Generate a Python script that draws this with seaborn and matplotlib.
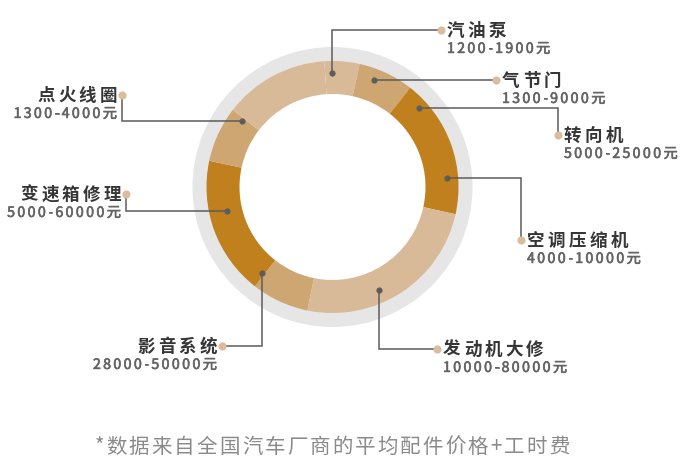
import numpy as np
import pandas as pd
import seaborn as sns
import matplotlib
matplotlib.use("Agg")
import matplotlib.pyplot as plt
import matplotlib.patheffects as pe
from matplotlib.font_manager import FontProperties

# ---------------- data ----------------
segment_sizes = [16.2, 25.5, 64.5, 89.0, 26.5, 64.0, 25.7, 48.6]   # ring segments (degrees), clockwise from the 汽油泵 segment
segment_shades = ["light", "medium", "dark", "light", "medium", "dark", "medium", "light"]
part_names = ["汽油泵", "气节门", "转向机", "空调压缩机", "发动机大修", "影音系统", "变速箱修理", "点火线圈"]
price_ranges = ["1200-1900元", "1300-9000元", "5000-25000元", "4000-10000元",
                "10000-80000元", "28000-50000元", "5000-60000元", "1300-4000元"]
dot_angles = [0.0, 21.2, 47.4, 85.3, 155.7, 219.6, 257.2, 306.4]      # clockwise from top
footnote = "*数据来自全国汽车厂商的平均配件价格+工时费"

# ---------------- layout / style ----------------
W, H = 685, 470
CX, CY = 332.5, 187.0
R_GRAY, R_OUT, R_IN = 140, 126, 93
START_OFFSET = 3.7   # first segment starts this many degrees left of top
dot_radius = [114, 115, 117, 115, 113, 111, 108, 112]
# (anchor x, anchor y, route) route 'v' = vertical first, 'h' = horizontal first
anchors = [(441, 30, "v"), (496, 80, "h"), (558, 135, "h"), (521, 240, "h"),
           (437, 349, "v"), (222, 346, "v"), (126, 194, "h"), (122, 95, "h")]
shade_colors = {"light": "#D8BA98", "medium": "#CEA672", "dark": "#C0801E"}
LINE_C = "#5c5c5c"
MARK_C = "#D9BD9C"
TITLE_C = "#363636"
VALUE_C = "#646464"
NOTE_C = "#8a8a8a"

sns.set_theme(style="white")
plt.rcParams["font.family"] = ["Noto Sans CJK SC", "DejaVu Sans"]

fig = plt.figure(figsize=(W / 100, H / 100), dpi=100)
fig.patch.set_facecolor("white")
ax = fig.add_axes([0, 0, 1, 1])

# gray halo ring
ax.pie([1], radius=R_GRAY, center=(CX, H - CY), colors=["#E6E6E6"],
       wedgeprops=dict(width=R_GRAY - R_OUT + 3, linewidth=0))
# colored donut
ax.pie(segment_sizes, radius=R_OUT, center=(CX, H - CY),
       startangle=90 + START_OFFSET, counterclock=False,
       colors=[shade_colors[s] for s in segment_shades],
       wedgeprops=dict(width=R_OUT - R_IN, linewidth=0))
ax.set_xlim(0, W)
ax.set_ylim(0, H)
ax.set_aspect("equal")
ax.axis("off")

renderer = fig.canvas.get_renderer()


def ink_width(ch, fp):
    t = ax.text(0, 0, ch, fontproperties=fp)
    w = t.get_window_extent(renderer).width
    t.remove()
    return w


def spaced_text(x, yc, s, size_px, gap, ha, color, weight, thicken=0.0):
    fp = FontProperties(family=["Noto Sans CJK SC", "DejaVu Sans"],
                        size=size_px * 0.72, weight=weight)
    widths = [ink_width(c, fp) for c in s]
    total = sum(widths) + gap * (len(s) - 1)
    if ha == "left":
        x0 = x
    elif ha == "right":
        x0 = x - total
    else:
        x0 = x - total / 2
    base = H - (yc + 0.38 * size_px)
    effects = [pe.withStroke(linewidth=thicken, foreground=color)] if thicken > 0 else None
    for c, w in zip(s, widths):
        ax.text(x0, base, c, fontproperties=fp, color=color,
                ha="left", va="baseline", zorder=6, path_effects=effects)
        x0 += w + gap


for name, price, ang, r, (mx, my, route) in zip(part_names, price_ranges, dot_angles,
                                                 dot_radius, anchors):
    th = np.deg2rad(ang)
    dx = CX + r * np.sin(th)
    dy = CY - r * np.cos(th)
    if route == "v":
        xs = [dx, dx, mx]
        ys = [dy, my, my]
    else:
        xs = [dx, mx, mx]
        ys = [dy, dy, my]
    ax.plot(xs, [H - v for v in ys], color=LINE_C, lw=1.1, zorder=4,
            solid_capstyle="butt", solid_joinstyle="miter")
    ax.scatter([dx], [H - dy], s=20, color=LINE_C, zorder=5, linewidths=0)
    ax.scatter([mx], [H - my], s=34, color=MARK_C, zorder=5, linewidths=0)
    if mx > CX:
        spaced_text(mx + 6, my - 1, name, 17.5, 3.3, "left", TITLE_C, "heavy")
        spaced_text(mx + 6, my + 17.5, price, 14.2, 2.3, "left", VALUE_C, "medium", 0.45)
    else:
        spaced_text(mx - 5, my - 1, name, 17.5, 3.3, "right", TITLE_C, "heavy")
        spaced_text(mx - 5, my + 17.5, price, 14.2, 2.3, "right", VALUE_C, "medium", 0.45)

spaced_text(332, 445, footnote, 20.5, 2.1, "center", NOTE_C, "light")

fig.savefig("out.png", dpi=100, facecolor="white")
